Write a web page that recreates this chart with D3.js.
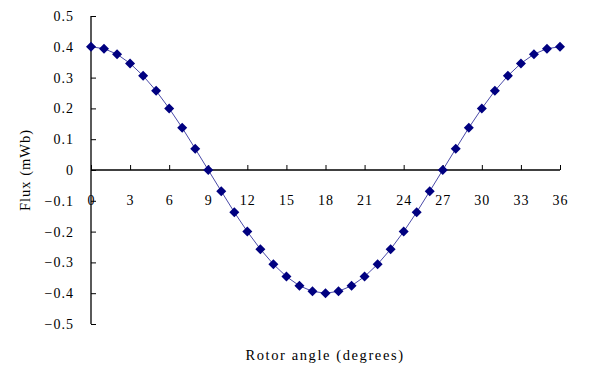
<!DOCTYPE html>
<html>
<head>
<meta charset="utf-8">
<script src="https://cdn.jsdelivr.net/npm/d3@7"></script>
<style>
  body { margin: 0; background: #fff; }
  text { font-family: "Liberation Serif", "Times New Roman", serif; fill: #000; }
</style>
</head>
<body>
<svg id="chart" width="590" height="370"></svg>
<script>
// rotor angle (degrees) and measured flux (mWb)
var angles = d3.range(0, 37);
var flux = [0.400, 0.394, 0.376, 0.346, 0.306, 0.257, 0.200, 0.137, 0.069, 0.000,
            -0.069, -0.137, -0.200, -0.257, -0.306, -0.346, -0.376, -0.394, -0.400,
            -0.394, -0.376, -0.346, -0.306, -0.257, -0.200, -0.137, -0.069, 0.000,
            0.069, 0.137, 0.200, 0.257, 0.306, 0.346, 0.376, 0.394, 0.400];
var xTicks = [0, 3, 6, 9, 12, 15, 18, 21, 24, 27, 30, 33, 36];
var yTicks = [0.5, 0.4, 0.3, 0.2, 0.1, 0, -0.1, -0.2, -0.3, -0.4, -0.5];

var data = angles.map(function(a, i) { return {angle: a, flux: flux[i]}; });

var svg = d3.select("#chart");

// scales
var x = d3.scaleLinear().domain([0, 36]).range([91, 560]),
    y = d3.scaleLinear().domain([-0.5, 0.5]).range([324, 16]);

// y axis (ticks pointing inward)
var gy = svg.append("g")
  .attr("transform", "translate(" + x(0) + ",0)")
  .call(d3.axisRight(y).tickValues(yTicks).tickSize(5).tickFormat(function(d) { return d === 0 ? "0" : d3.format(".1f")(d); }));
gy.select(".domain").attr("d", "M0," + y(0.5) + "V" + y(-0.5)).attr("stroke", "#000").attr("stroke-width", 1.3);
gy.selectAll(".tick line").attr("stroke", "#000");
gy.selectAll(".tick text")
  .attr("x", -17)
  .attr("text-anchor", "end")
  .attr("font-size", 14)
  .attr("letter-spacing", 1);

// x axis at zero line (ticks pointing up)
var gx = svg.append("g")
  .attr("transform", "translate(0," + y(0) + ")")
  .call(d3.axisTop(x).tickValues(xTicks).tickSize(5));
gx.select(".domain").attr("d", "M" + x(0) + ",0H" + x(36)).attr("stroke", "#000").attr("stroke-width", 1.3);
gx.selectAll(".tick line").attr("stroke", "#000");
gx.selectAll(".tick text")
  .attr("y", 35)
  .attr("dy", 0)
  .attr("font-size", 14)
  .attr("letter-spacing", 1);

// line
svg.append("path")
  .datum(data)
  .attr("fill", "none")
  .attr("stroke", "#4a4aa8")
  .attr("stroke-width", 1)
  .attr("d", d3.line().x(function(d) { return x(d.angle); }).y(function(d) { return y(d.flux); }));

// diamond markers
svg.selectAll(".pt")
  .data(data)
  .enter().append("path")
  .attr("class", "pt")
  .attr("transform", function(d) { return "translate(" + x(d.angle) + "," + y(d.flux) + ")"; })
  .attr("d", "M0,-5L5,0L0,5L-5,0Z")
  .attr("fill", "#000080");

// axis titles
svg.append("text")
  .attr("x", 325).attr("y", 360)
  .attr("text-anchor", "middle")
  .attr("font-size", 14.5)
  .attr("letter-spacing", 1.6)
  .text("Rotor angle (degrees)");

svg.append("text")
  .attr("transform", "translate(30,170) rotate(-90)")
  .attr("text-anchor", "middle")
  .attr("font-size", 14.5)
  .attr("letter-spacing", 1)
  .text("Flux (mWb)");
</script>
</body>
</html>
